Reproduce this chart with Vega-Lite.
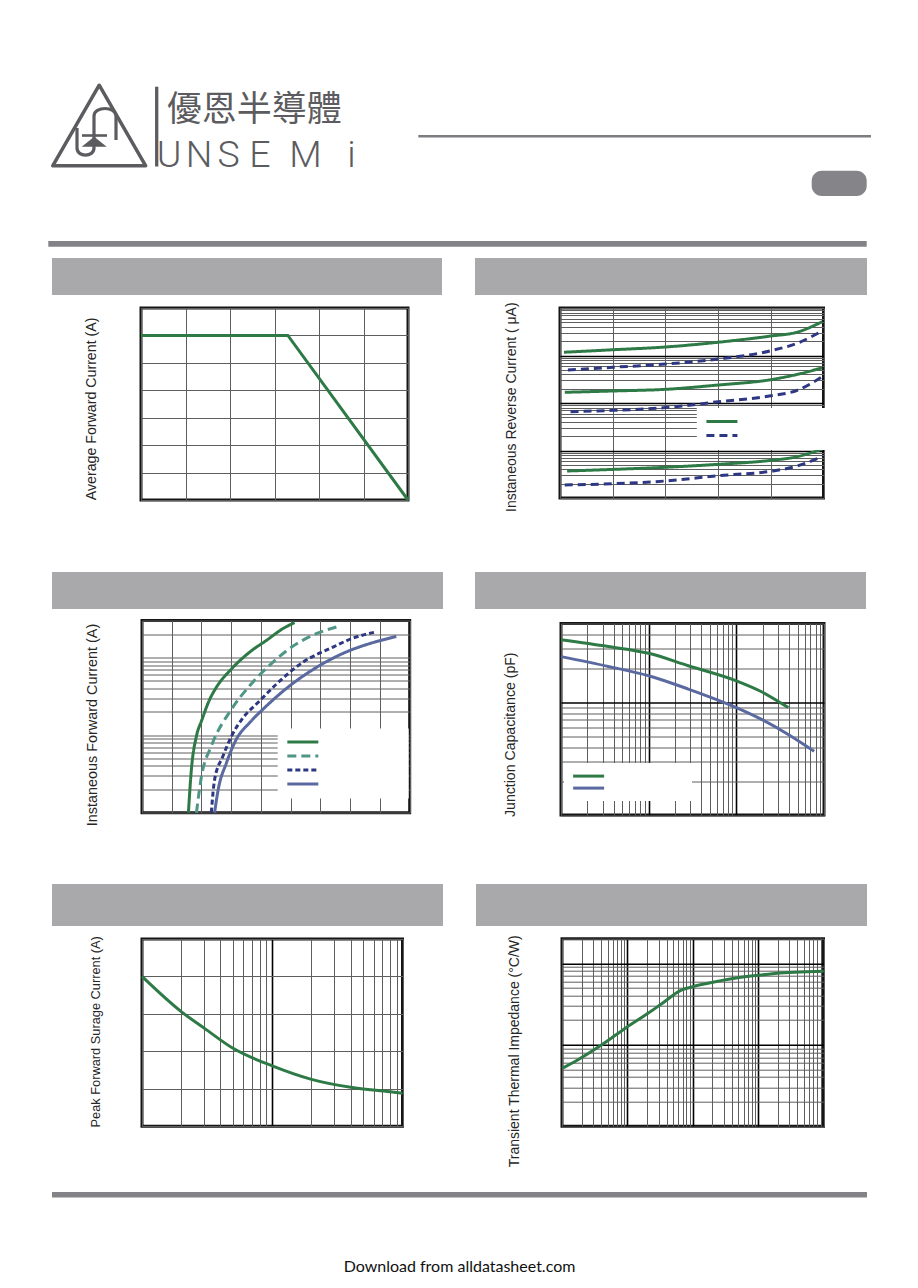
{
  "$schema": "https://vega.github.io/schema/vega-lite/v6.json",
  "background": "white",
  "padding": {"left": 48, "top": 0, "right": 0, "bottom": 0},
  "spacing": 0,
  "resolve": {"scale": {"color": "independent", "strokeDash": "independent"}},
  "config": {
    "view": {"stroke": "#151515", "strokeWidth": 3},
    "axis": {"labels": false, "domain": false, "ticks": true, "tickOpacity": 0, "grid": true, "gridColor": "#5e5e5e", "gridWidth": 1, "gridOpacity": 1, "titleFont": "Liberation Sans", "titleFontWeight": "normal", "titleColor": "#262626", "titleFontSize": 14},
    "line": {"strokeWidth": 3, "interpolate": "monotone"}
  },
  "datasets": {
    "logoLetters": [
      {"ch": "U", "gx": 117}, {"ch": "N", "gx": 147}, {"ch": "S", "gx": 176.5},
      {"ch": "E", "gx": 208}, {"ch": "M", "gx": 253.5}, {"ch": "i", "gx": 299.5}
    ],
    "derating": [
      {"temp": 0, "current": 3.0}, {"temp": 82.5, "current": 3.0}, {"temp": 150, "current": 0}
    ],
    "reverse": [
      {"curve": "A-hi", "type": "A", "pct": 1.5, "ir": 11.7}, {"curve": "A-hi", "type": "A", "pct": 20, "ir": 13.2}, {"curve": "A-hi", "type": "A", "pct": 40, "ir": 15.1}, {"curve": "A-hi", "type": "A", "pct": 60, "ir": 19.0}, {"curve": "A-hi", "type": "A", "pct": 80, "ir": 25.7}, {"curve": "A-hi", "type": "A", "pct": 90, "ir": 31}, {"curve": "A-hi", "type": "A", "pct": 99.5, "ir": 51.5},
      {"curve": "B-hi", "type": "B", "pct": 3, "ir": 4.95}, {"curve": "B-hi", "type": "B", "pct": 20, "ir": 5.65}, {"curve": "B-hi", "type": "B", "pct": 40, "ir": 6.6}, {"curve": "B-hi", "type": "B", "pct": 60, "ir": 8.4}, {"curve": "B-hi", "type": "B", "pct": 80, "ir": 12.6}, {"curve": "B-hi", "type": "B", "pct": 90, "ir": 18.1}, {"curve": "B-hi", "type": "B", "pct": 99.5, "ir": 32.8},
      {"curve": "A-mid", "type": "A", "pct": 1.8, "ir": 1.68}, {"curve": "A-mid", "type": "A", "pct": 20, "ir": 1.79}, {"curve": "A-mid", "type": "A", "pct": 40, "ir": 1.94}, {"curve": "A-mid", "type": "A", "pct": 60, "ir": 2.39}, {"curve": "A-mid", "type": "A", "pct": 80, "ir": 3.1}, {"curve": "A-mid", "type": "A", "pct": 90, "ir": 4.0}, {"curve": "A-mid", "type": "A", "pct": 99.5, "ir": 5.5},
      {"curve": "B-mid", "type": "B", "pct": 4, "ir": 0.656}, {"curve": "B-mid", "type": "B", "pct": 20, "ir": 0.70}, {"curve": "B-mid", "type": "B", "pct": 40, "ir": 0.80}, {"curve": "B-mid", "type": "B", "pct": 60, "ir": 1.06}, {"curve": "B-mid", "type": "B", "pct": 80, "ir": 1.42}, {"curve": "B-mid", "type": "B", "pct": 90, "ir": 1.85}, {"curve": "B-mid", "type": "B", "pct": 99.5, "ir": 3.58},
      {"curve": "A-lo", "type": "A", "pct": 2.7, "ir": 0.037}, {"curve": "A-lo", "type": "A", "pct": 20, "ir": 0.040}, {"curve": "A-lo", "type": "A", "pct": 40, "ir": 0.0443}, {"curve": "A-lo", "type": "A", "pct": 60, "ir": 0.0512}, {"curve": "A-lo", "type": "A", "pct": 80, "ir": 0.062}, {"curve": "A-lo", "type": "A", "pct": 90, "ir": 0.074}, {"curve": "A-lo", "type": "A", "pct": 99.5, "ir": 0.1076},
      {"curve": "B-lo", "type": "B", "pct": 1.8, "ir": 0.0188}, {"curve": "B-lo", "type": "B", "pct": 20, "ir": 0.020}, {"curve": "B-lo", "type": "B", "pct": 40, "ir": 0.0228}, {"curve": "B-lo", "type": "B", "pct": 60, "ir": 0.0295}, {"curve": "B-lo", "type": "B", "pct": 80, "ir": 0.0365}, {"curve": "B-lo", "type": "B", "pct": 90, "ir": 0.047}, {"curve": "B-lo", "type": "B", "pct": 99.5, "ir": 0.074}
    ],
    "forward": [
      {"curve": "c1", "vf": 0.356, "ifwd": 0.1}, {"curve": "c1", "vf": 0.366, "ifwd": 0.359}, {"curve": "c1", "vf": 0.383, "ifwd": 0.97}, {"curve": "c1", "vf": 0.400, "ifwd": 1.52}, {"curve": "c1", "vf": 0.428, "ifwd": 2.91}, {"curve": "c1", "vf": 0.450, "ifwd": 4.13}, {"curve": "c1", "vf": 0.501, "ifwd": 7.13}, {"curve": "c1", "vf": 0.562, "ifwd": 11.75}, {"curve": "c1", "vf": 0.618, "ifwd": 16.6}, {"curve": "c1", "vf": 0.674, "ifwd": 23.6}, {"curve": "c1", "vf": 0.713, "ifwd": 28.2},
      {"curve": "c2", "vf": 0.383, "ifwd": 0.1}, {"curve": "c2", "vf": 0.400, "ifwd": 0.294}, {"curve": "c2", "vf": 0.433, "ifwd": 0.72}, {"curve": "c2", "vf": 0.501, "ifwd": 2.16}, {"curve": "c2", "vf": 0.562, "ifwd": 4.33}, {"curve": "c2", "vf": 0.628, "ifwd": 7.87}, {"curve": "c2", "vf": 0.695, "ifwd": 12.97}, {"curve": "c2", "vf": 0.786, "ifwd": 20.3}, {"curve": "c2", "vf": 0.854, "ifwd": 24.8},
      {"curve": "c3", "vf": 0.433, "ifwd": 0.1}, {"curve": "c3", "vf": 0.444, "ifwd": 0.266}, {"curve": "c3", "vf": 0.472, "ifwd": 0.533}, {"curve": "c3", "vf": 0.501, "ifwd": 0.97}, {"curve": "c3", "vf": 0.540, "ifwd": 1.68}, {"curve": "c3", "vf": 0.590, "ifwd": 2.63}, {"curve": "c3", "vf": 0.652, "ifwd": 4.55}, {"curve": "c3", "vf": 0.741, "ifwd": 8.71}, {"curve": "c3", "vf": 0.842, "ifwd": 13.6}, {"curve": "c3", "vf": 0.904, "ifwd": 17.5}, {"curve": "c3", "vf": 0.988, "ifwd": 21.4},
      {"curve": "c4", "vf": 0.444, "ifwd": 0.1}, {"curve": "c4", "vf": 0.456, "ifwd": 0.197}, {"curve": "c4", "vf": 0.484, "ifwd": 0.439}, {"curve": "c4", "vf": 0.517, "ifwd": 0.88}, {"curve": "c4", "vf": 0.562, "ifwd": 1.45}, {"curve": "c4", "vf": 0.607, "ifwd": 2.16}, {"curve": "c4", "vf": 0.697, "ifwd": 4.33}, {"curve": "c4", "vf": 0.797, "ifwd": 7.87}, {"curve": "c4", "vf": 0.898, "ifwd": 12.3}, {"curve": "c4", "vf": 0.965, "ifwd": 15.1}, {"curve": "c4", "vf": 1.055, "ifwd": 18.7}
    ],
    "capacitance": [
      {"curve": "g", "vr": 0.1, "cj": 35.8}, {"curve": "g", "vr": 0.346, "cj": 31.2}, {"curve": "g", "vr": 1, "cj": 27.2}, {"curve": "g", "vr": 2.83, "cj": 21.1}, {"curve": "g", "vr": 10, "cj": 15.5}, {"curve": "g", "vr": 19.4, "cj": 12.4}, {"curve": "g", "vr": 39.1, "cj": 8.97},
      {"curve": "h", "vr": 0.1, "cj": 25.4}, {"curve": "h", "vr": 0.346, "cj": 20.8}, {"curve": "h", "vr": 1, "cj": 17.2}, {"curve": "h", "vr": 2.83, "cj": 13.1}, {"curve": "h", "vr": 10, "cj": 8.97}, {"curve": "h", "vr": 19.4, "cj": 7.05}, {"curve": "h", "vr": 39.1, "cj": 5.18}, {"curve": "h", "vr": 77.3, "cj": 3.67}
    ],
    "surge": [
      {"cycles": 1, "ifsm": 40.0}, {"cycles": 2, "ifsm": 30.6}, {"cycles": 3, "ifsm": 26.2}, {"cycles": 5, "ifsm": 20.8}, {"cycles": 10, "ifsm": 16.1}, {"cycles": 20, "ifsm": 12.5}, {"cycles": 40, "ifsm": 10.4}, {"cycles": 80, "ifsm": 9.2}, {"cycles": 100, "ifsm": 8.8}
    ],
    "thermal": [
      {"pulse": 0.01, "zth": 5.13}, {"pulse": 0.0156, "zth": 6.19}, {"pulse": 0.04, "zth": 9.9}, {"pulse": 0.0966, "zth": 16.3}, {"pulse": 0.207, "zth": 24.3}, {"pulse": 0.331, "zth": 31.6}, {"pulse": 0.67, "zth": 46.9}, {"pulse": 1, "zth": 51.5}, {"pulse": 1.71, "zth": 56.7}, {"pulse": 4.37, "zth": 65.3}, {"pulse": 10, "zth": 71.1}, {"pulse": 25.4, "zth": 76.4}, {"pulse": 57.7, "zth": 78.7}, {"pulse": 100, "zth": 79.5}
    ]
  },
  "vconcat": [
    {
      "width": 815, "height": 258,
      "view": {"stroke": null},
      "layer": [
        {
          "data": {"values": [{}]},
          "mark": {"type": "point", "shape": "triangle-up", "size": 8650, "filled": false, "color": "#5c5c60", "strokeWidth": 3.5, "strokeJoin": "round", "opacity": 1},
          "encoding": {
            "x": {"datum": 47.2, "type": "quantitative", "scale": {"domain": [0, 815], "nice": false, "zero": false}, "axis": null},
            "y": {"datum": 125.5, "type": "quantitative", "scale": {"domain": [0, 258], "nice": false, "zero": false, "reverse": true}, "axis": null}
          }
        },
        {
          "data": {"values": [{}]},
          "mark": {"type": "point", "shape": "M-0.78,-0.18L-0.78,0.62C-0.78,1.0,-0.1,1.0,-0.1,0.62L-0.1,-0.66C-0.1,-1.06,0.78,-1.06,0.78,-0.66L0.78,0.3", "size": 2500, "filled": false, "color": "#5c5c60", "strokeWidth": 3.2, "opacity": 1},
          "encoding": {
            "x": {"datum": 44.5, "type": "quantitative", "scale": {"domain": [0, 815], "nice": false, "zero": false}, "axis": null},
            "y": {"datum": 132.5, "type": "quantitative", "scale": {"domain": [0, 258], "nice": false, "zero": false, "reverse": true}, "axis": null}
          }
        },
        {
          "data": {"values": [{}]},
          "mark": {"type": "point", "shape": "M-1,0.4L1,0.4L0,-0.4Z", "size": 625, "filled": true, "color": "#5c5c60", "opacity": 1},
          "encoding": {
            "x": {"datum": 42.2, "type": "quantitative", "scale": {"domain": [0, 815], "nice": false, "zero": false}, "axis": null},
            "y": {"datum": 141.7, "type": "quantitative", "scale": {"domain": [0, 258], "nice": false, "zero": false, "reverse": true}, "axis": null}
          }
        },
        {
          "data": {"values": [{}]},
          "mark": {"type": "rule", "color": "#5c5c60", "strokeWidth": 2.6},
          "encoding": {
            "x": {"datum": 30, "type": "quantitative", "scale": {"domain": [0, 815], "nice": false, "zero": false}, "axis": null},
            "x2": {"datum": 55},
            "y": {"datum": 135.5, "type": "quantitative", "scale": {"domain": [0, 258], "nice": false, "zero": false, "reverse": true}, "axis": null}
          }
        },
        {
          "data": {"values": [{}]},
          "mark": {"type": "rule", "color": "#5c5c60", "strokeWidth": 3.3},
          "encoding": {
            "x": {"datum": 104.7, "type": "quantitative", "scale": {"domain": [0, 815], "nice": false, "zero": false}, "axis": null},
            "y": {"datum": 86.7, "type": "quantitative", "scale": {"domain": [0, 258], "nice": false, "zero": false, "reverse": true}, "axis": null},
            "y2": {"datum": 166.5}
          }
        },
        {
          "data": {"name": "logoLetters"},
          "mark": {"type": "text", "font": "Roboto", "fontWeight": 300, "fontSize": 37.5, "color": "#5c5c60", "baseline": "alphabetic", "align": "center"},
          "encoding": {
            "x": {"field": "gx", "type": "quantitative", "scale": {"domain": [0, 815], "nice": false, "zero": false}, "axis": null},
            "y": {"datum": 166.7, "type": "quantitative", "scale": {"domain": [0, 258], "nice": false, "zero": false, "reverse": true}, "axis": null},
            "text": {"field": "ch", "type": "nominal"}
          }
        },
        {
          "data": {"values": [{}]},
          "mark": {"type": "text", "text": "優恩半導體", "font": "Noto Sans CJK TC", "fontSize": 35, "color": "#5c5c60", "align": "left", "baseline": "middle"},
          "encoding": {
            "x": {"datum": 114.7, "type": "quantitative", "scale": {"domain": [0, 815], "nice": false, "zero": false}, "axis": null},
            "y": {"datum": 110, "type": "quantitative", "scale": {"domain": [0, 258], "nice": false, "zero": false, "reverse": true}, "axis": null}
          }
        },
        {
          "data": {"values": [{}]},
          "mark": {"type": "rule", "color": "#7d7d81", "strokeWidth": 2.4},
          "encoding": {
            "x": {"datum": 366.3, "type": "quantitative", "scale": {"domain": [0, 815], "nice": false, "zero": false}, "axis": null},
            "x2": {"datum": 819},
            "y": {"datum": 136.2, "type": "quantitative", "scale": {"domain": [0, 258], "nice": false, "zero": false, "reverse": true}, "axis": null}
          }
        },
        {
          "data": {"values": [{}]},
          "mark": {"type": "rect", "color": "#858589", "cornerRadius": 10},
          "encoding": {
            "x": {"datum": 759.7, "type": "quantitative", "scale": {"domain": [0, 815], "nice": false, "zero": false}, "axis": null},
            "x2": {"datum": 814.7},
            "y": {"datum": 170.7, "type": "quantitative", "scale": {"domain": [0, 258], "nice": false, "zero": false, "reverse": true}, "axis": null},
            "y2": {"datum": 196}
          }
        },
        {
          "data": {"values": [{}]},
          "mark": {"type": "rect", "color": "#838387"},
          "encoding": {
            "x": {"datum": -3.7, "type": "quantitative", "scale": {"domain": [0, 815], "nice": false, "zero": false}, "axis": null},
            "x2": {"datum": 814.7},
            "y": {"datum": 241, "type": "quantitative", "scale": {"domain": [0, 258], "nice": false, "zero": false, "reverse": true}, "axis": null},
            "y2": {"datum": 246.7}
          }
        }
      ]
    },
    {
      "spacing": 18,
      "resolve": {"scale": {"color": "independent", "strokeDash": "independent"}},
      "vconcat": [
        {
          "spacing": 33,
          "resolve": {"scale": {"color": "independent", "strokeDash": "independent"}},
          "hconcat": [
            {
              "spacing": 7,
              "vconcat": [
                {"width": 390, "height": 37, "view": {"fill": "#a9a9ac", "stroke": null}, "data": {"values": [{}]}, "mark": {"type": "text", "text": ""}},
                {
                  "spacing": 0,
                  "hconcat": [
                    {"width": 27, "height": 1, "view": {"stroke": null}, "data": {"values": [{}]}, "mark": {"type": "text", "text": ""}},
                    {
                      "width": 267, "height": 192,
                      "data": {"name": "derating"},
                      "mark": {"type": "line", "color": "#2e7a46", "strokeWidth": 3, "interpolate": "linear"},
                      "encoding": {
                        "x": {"field": "temp", "type": "quantitative", "scale": {"domain": [0, 150], "nice": false, "zero": false}, "axis": {"values": [0, 25, 50, 75, 100, 125, 150], "tickSize": 52, "title": null}},
                        "y": {"field": "current", "type": "quantitative", "scale": {"domain": [0, 3.5], "nice": false, "zero": false}, "axis": {"values": [0, 0.5, 1, 1.5, 2, 2.5, 3, 3.5], "tickSize": 60, "title": "Average Forward Current (A)", "titleX": -42.7, "titleY": 100.4, "titleFontSize": 14.2}}
                      }
                    }
                  ]
                }
              ]
            },
            {
              "spacing": 5,
              "resolve": {"scale": {"color": "independent", "strokeDash": "independent"}},
              "vconcat": [
                {"width": 392, "height": 37, "view": {"fill": "#a9a9ac", "stroke": null}, "data": {"values": [{}]}, "mark": {"type": "text", "text": ""}},
                {
                  "spacing": 0,
                  "resolve": {"scale": {"color": "independent", "strokeDash": "independent"}},
                  "hconcat": [
                    {"width": 23, "height": 1, "view": {"stroke": null}, "data": {"values": [{}]}, "mark": {"type": "text", "text": ""}},
                    {
                      "width": 263.5, "height": 190,
                      "data": {"name": "reverse"},
                      "mark": {"type": "line", "interpolate": "monotone"},
                      "encoding": {
                        "x": {"field": "pct", "type": "quantitative", "scale": {"domain": [0, 100], "nice": false, "zero": false}, "axis": {"values": [0, 20, 40, 60, 80, 100], "tickSize": 54, "title": null}},
                        "y": {"field": "ir", "type": "quantitative", "scale": {"type": "log", "domain": [0.01, 100], "nice": false}, "axis": {"values": [0.01, 0.02, 0.03, 0.04, 0.05, 0.06, 0.07, 0.08, 0.09, 0.1, 0.2, 0.3, 0.4, 0.5, 0.6, 0.7, 0.8, 0.9, 1, 2, 3, 4, 5, 6, 7, 8, 9, 10, 20, 30, 40, 50, 60, 70, 80, 90, 100], "tickSize": 60, "title": "Instaneous Reverse Current ( μA)", "titleX": -41.2, "titleY": 98.7, "titleFontSize": 14,
                          "gridColor": {"condition": {"test": "datum.value == 0.1 || datum.value == 1 || datum.value == 10", "value": "#000000"}, "value": "#5e5e5e"},
                          "gridWidth": {"condition": {"test": "datum.value == 0.1 || datum.value == 1 || datum.value == 10", "value": 1.6}, "value": 1}}},
                        "color": {"field": "type", "type": "nominal", "scale": {"domain": ["A", "B"], "range": ["#2e7a46", "#2d3782"]},
                          "legend": {"orient": "none", "legendX": 136.8, "legendY": 100.1, "title": null, "labelExpr": "''", "symbolType": "M-4,0L4,0", "symbolSize": 60.06, "symbolStrokeWidth": 1.5, "symbolOffset": 11.625, "labelOffset": 93.1, "labelFontSize": 13, "padding": 7, "rowPadding": 0, "fillColor": "white", "encode": {"symbols": {"update": {"strokeWidth": {"value": 1.5}}}}}},
                        "strokeDash": {"field": "type", "type": "nominal", "scale": {"domain": ["A", "B"], "range": [[1, 0], [8, 5]]},
                          "legend": {"orient": "none", "legendX": 136.8, "legendY": 100.1, "title": null, "labelExpr": "''", "symbolType": "M-4,0L4,0", "symbolSize": 60.06, "symbolStrokeWidth": 1.5, "symbolOffset": 11.625, "labelOffset": 93.1, "labelFontSize": 13, "padding": 7, "rowPadding": 0, "fillColor": "white", "encode": {"symbols": {"update": {"strokeWidth": {"value": 1.5}}}}}},
                        "detail": {"field": "curve", "type": "nominal"}
                      }
                    }
                  ]
                }
              ]
            }
          ]
        },
        {
          "spacing": 32,
          "resolve": {"scale": {"color": "independent", "strokeDash": "independent"}},
          "hconcat": [
            {
              "spacing": 5.5,
              "resolve": {"scale": {"color": "independent", "strokeDash": "independent"}},
              "vconcat": [
                {"width": 391, "height": 37, "view": {"fill": "#a9a9ac", "stroke": null}, "data": {"values": [{}]}, "mark": {"type": "text", "text": ""}},
                {
                  "spacing": 0,
                  "resolve": {"scale": {"color": "independent", "strokeDash": "independent"}},
                  "hconcat": [
                    {"width": 28, "height": 1, "view": {"stroke": null}, "data": {"values": [{}]}, "mark": {"type": "text", "text": ""}},
                    {
                      "width": 267.7, "height": 192.2,
                      "data": {"name": "forward"},
                      "mark": {"type": "line", "interpolate": "monotone"},
                      "encoding": {
                        "x": {"field": "vf", "type": "quantitative", "scale": {"domain": [0.2, 1.1], "nice": false, "zero": false}, "axis": {"values": [0.2, 0.3, 0.4, 0.5, 0.6, 0.7, 0.8, 0.9, 1.0, 1.1], "tickSize": 51.3, "title": null}},
                        "y": {"field": "ifwd", "type": "quantitative", "scale": {"type": "log", "domain": [0.1, 30], "nice": false}, "axis": {"values": [0.1, 0.2, 0.3, 0.4, 0.5, 0.6, 0.7, 0.8, 0.9, 1, 2, 3, 4, 5, 6, 7, 8, 9, 10, 20, 30], "tickSize": 60, "title": "Instaneous Forward Current (A)", "titleX": -42.3, "titleY": 104, "titleFontSize": 14.4}},
                        "color": {"field": "curve", "type": "nominal", "scale": {"domain": ["c1", "c2", "c3", "c4"], "range": ["#2e7a46", "#4f9687", "#2d3782", "#5a69a0"]},
                          "legend": {"orient": "none", "legendX": 135.7, "legendY": 107.9, "title": null, "labelExpr": "''", "symbolType": "M-4,0L4,0", "symbolSize": 60.06, "symbolStrokeWidth": 1.5, "symbolOffset": 11.625, "labelOffset": 91.6, "labelFontSize": 13, "padding": 7, "rowPadding": 0, "fillColor": "white", "encode": {"symbols": {"update": {"strokeWidth": {"value": 1.5}}}}}},
                        "strokeDash": {"field": "curve", "type": "nominal", "scale": {"domain": ["c1", "c2", "c3", "c4"], "range": [[1, 0], [9, 5], [5, 3], [1, 0]]},
                          "legend": {"orient": "none", "legendX": 135.7, "legendY": 107.9, "title": null, "labelExpr": "''", "symbolType": "M-4,0L4,0", "symbolSize": 60.06, "symbolStrokeWidth": 1.5, "symbolOffset": 11.625, "labelOffset": 91.6, "labelFontSize": 13, "padding": 7, "rowPadding": 0, "fillColor": "white", "encode": {"symbols": {"update": {"strokeWidth": {"value": 1.5}}}}}}
                      }
                    }
                  ]
                }
              ]
            },
            {
              "spacing": 8.5,
              "resolve": {"scale": {"color": "independent", "strokeDash": "independent"}},
              "vconcat": [
                {"width": 391, "height": 37, "view": {"fill": "#a9a9ac", "stroke": null}, "data": {"values": [{}]}, "mark": {"type": "text", "text": ""}},
                {
                  "spacing": 0,
                  "resolve": {"scale": {"color": "independent", "strokeDash": "independent"}},
                  "hconcat": [
                    {"width": 24, "height": 1, "view": {"stroke": null}, "data": {"values": [{}]}, "mark": {"type": "text", "text": ""}},
                    {
                      "width": 263, "height": 191.5,
                      "data": {"name": "capacitance"},
                      "mark": {"type": "line", "interpolate": "monotone"},
                      "encoding": {
                        "x": {"field": "vr", "type": "quantitative", "scale": {"type": "log", "domain": [0.1, 100], "nice": false}, "axis": {"values": [0.1, 0.2, 0.3, 0.4, 0.5, 0.6, 0.7, 0.8, 0.9, 1, 2, 3, 4, 5, 6, 7, 8, 9, 10, 20, 30, 40, 50, 60, 70, 80, 90, 100], "tickSize": 49, "title": null,
                          "gridColor": {"condition": {"test": "datum.value == 1 || datum.value == 10", "value": "#000000"}, "value": "#5e5e5e"},
                          "gridWidth": {"condition": {"test": "datum.value == 1 || datum.value == 10", "value": 1.6}, "value": 1}}},
                        "y": {"field": "cj", "type": "quantitative", "scale": {"type": "log", "domain": [1, 50], "nice": false}, "axis": {"values": [1, 2, 3, 4, 5, 6, 7, 8, 9, 10, 20, 30, 40, 50], "tickSize": 60, "title": "Junction Capacitance (pF)", "titleX": -43.3, "titleY": 110.7, "titleFontSize": 14.1,
                          "gridColor": {"condition": {"test": "datum.value == 10", "value": "#000000"}, "value": "#5e5e5e"},
                          "gridWidth": {"condition": {"test": "datum.value == 10", "value": 1.6}, "value": 1}}},
                        "color": {"field": "curve", "type": "nominal", "scale": {"domain": ["g", "h"], "range": ["#2e7a46", "#5a69a0"]},
                          "legend": {"orient": "none", "legendX": 3, "legendY": 139.6, "title": null, "labelExpr": "''", "symbolType": "M-4,0L4,0", "symbolSize": 60.06, "symbolStrokeWidth": 1.5, "symbolOffset": 11.625, "labelOffset": 89.6, "labelFontSize": 12, "padding": 7, "rowPadding": 0, "fillColor": "white", "encode": {"symbols": {"update": {"strokeWidth": {"value": 1.5}}}}}}
                      }
                    }
                  ]
                }
              ]
            }
          ]
        },
        {
          "spacing": 33,
          "hconcat": [
            {
              "spacing": 7,
              "vconcat": [
                {"width": 391, "height": 42, "view": {"fill": "#a9a9ac", "stroke": null}, "data": {"values": [{}]}, "mark": {"type": "text", "text": ""}},
                {
                  "spacing": 0,
                  "hconcat": [
                    {"width": 28, "height": 1, "view": {"stroke": null}, "data": {"values": [{}]}, "mark": {"type": "text", "text": ""}},
                    {
                      "width": 260.5, "height": 187.2,
                      "data": {"name": "surge"},
                      "mark": {"type": "line", "color": "#2e7a46", "strokeWidth": 3, "interpolate": "monotone"},
                      "encoding": {
                        "x": {"field": "cycles", "type": "quantitative", "scale": {"type": "log", "domain": [1, 100], "nice": false}, "axis": {"values": [1, 2, 3, 4, 5, 6, 7, 8, 9, 10, 20, 30, 40, 50, 60, 70, 80, 90, 100], "tickSize": 63.8, "title": null,
                          "gridColor": {"condition": {"test": "datum.value == 10", "value": "#000000"}, "value": "#5e5e5e"},
                          "gridWidth": {"condition": {"test": "datum.value == 10", "value": 1.6}, "value": 1}}},
                        "y": {"field": "ifsm", "type": "quantitative", "scale": {"domain": [0, 50], "nice": false, "zero": false}, "axis": {"values": [0, 10, 20, 30, 40, 50], "tickSize": 60, "title": "Peak Forward Surage Current (A)", "titleX": -40, "titleY": 92.3, "titleFontSize": 12.8}}
                      }
                    }
                  ]
                }
              ]
            },
            {
              "spacing": 6.7,
              "vconcat": [
                {"width": 391, "height": 42, "view": {"fill": "#a9a9ac", "stroke": null}, "data": {"values": [{}]}, "mark": {"type": "text", "text": ""}},
                {
                  "spacing": 0,
                  "hconcat": [
                    {"width": 24, "height": 1, "view": {"stroke": null}, "data": {"values": [{}]}, "mark": {"type": "text", "text": ""}},
                    {
                      "width": 261.5, "height": 187.5,
                      "data": {"name": "thermal"},
                      "mark": {"type": "line", "color": "#2e7a46", "strokeWidth": 3, "interpolate": "monotone"},
                      "encoding": {
                        "x": {"field": "pulse", "type": "quantitative", "scale": {"type": "log", "domain": [0.01, 100], "nice": false}, "axis": {"values": [0.01, 0.02, 0.03, 0.04, 0.05, 0.06, 0.07, 0.08, 0.09, 0.1, 0.2, 0.3, 0.4, 0.5, 0.6, 0.7, 0.8, 0.9, 1, 2, 3, 4, 5, 6, 7, 8, 9, 10, 20, 30, 40, 50, 60, 70, 80, 90, 100], "tickSize": 63.8, "title": null,
                          "gridColor": {"condition": {"test": "datum.value == 0.1 || datum.value == 1 || datum.value == 10", "value": "#000000"}, "value": "#5e5e5e"},
                          "gridWidth": {"condition": {"test": "datum.value == 0.1 || datum.value == 1 || datum.value == 10", "value": 1.6}, "value": 1}}},
                        "y": {"field": "zth", "type": "quantitative", "scale": {"type": "log", "domain": [1, 200], "nice": false}, "axis": {"values": [1, 2, 3, 4, 5, 6, 7, 8, 9, 10, 20, 30, 40, 50, 60, 70, 80, 90, 100, 200], "tickSize": 60, "title": "Transient Thermal Impedance (°C/W)", "titleX": -40.6, "titleY": 112.1, "titleFontSize": 14,
                          "gridColor": {"condition": {"test": "datum.value == 10 || datum.value == 100", "value": "#000000"}, "value": "#5e5e5e"},
                          "gridWidth": {"condition": {"test": "datum.value == 10 || datum.value == 100", "value": 1.6}, "value": 1}}}
                      }
                    }
                  ]
                }
              ]
            }
          ]
        }
      ]
    },
    {"width": 815, "height": 5.5, "view": {"fill": "#838387", "stroke": null}, "data": {"values": [{}]}, "mark": {"type": "text", "text": "", "fontSize": 0}},
    {"width": 815, "height": 80, "view": {"stroke": null}, "data": {"values": [{}]}, "mark": {"type": "text", "text": "Download from alldatasheet.com", "font": "Lato", "fontSize": 16, "color": "#111111", "baseline": "alphabetic", "dy": 34}}
  ]
}
